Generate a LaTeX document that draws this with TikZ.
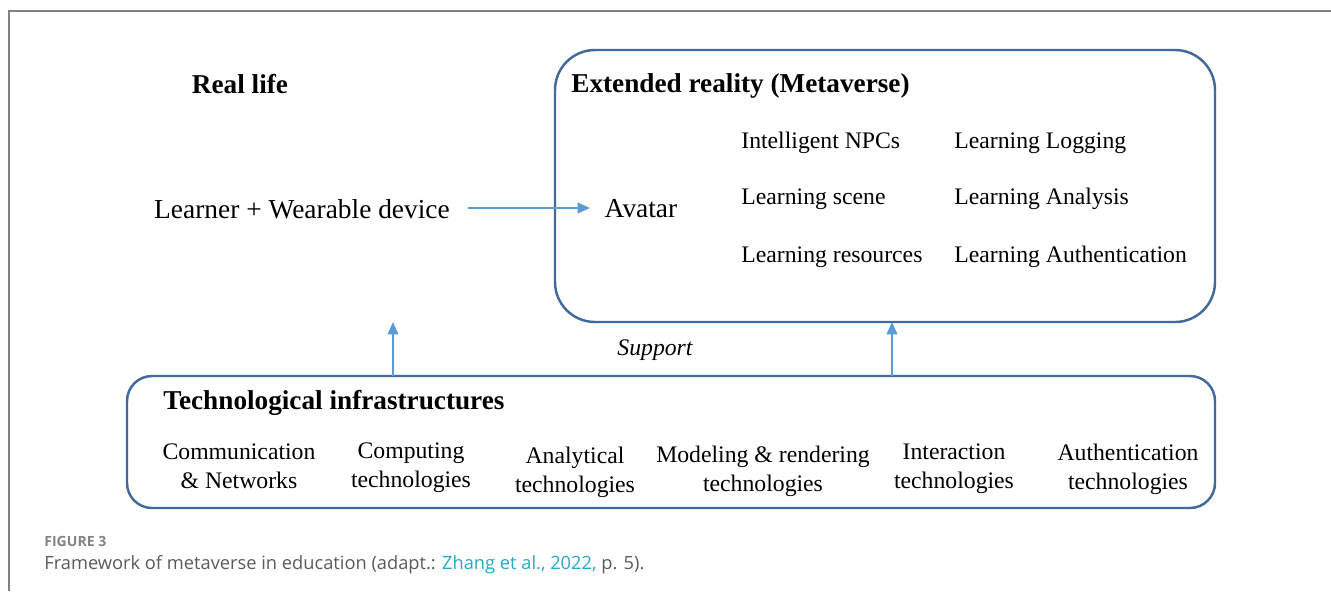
\documentclass[tikz,border=0pt]{standalone}
\usepackage{fontspec}
\setmainfont{Liberation Serif}
\newfontfamily\capfont{Open Sans}
\usetikzlibrary{arrows.meta, positioning}
\definecolor{boxline}{HTML}{41699A}
\definecolor{arrline}{HTML}{5B9BD5}
\definecolor{capgray}{HTML}{5A5A5A}
\definecolor{linkcol}{HTML}{2AA6C6}
\begin{document}
\begin{tikzpicture}[x=0.02cm, y=-0.02cm, >={Triangle[length=7pt,width=6pt]},
        every node/.style={font=\fontsize{13.5}{16.5}\selectfont, inner sep=0pt},
        title/.style={font=\fontsize{15.5}{18}\selectfont\bfseries},
        big/.style={font=\fontsize{15.6}{18}\selectfont},
        item/.style={anchor=west},
        tech/.style={align=center},
        frame/.style={draw=boxline, line width=1.4pt},
        link/.style={draw=arrline, line width=1.1pt, ->}]
      \useasboundingbox (0,0) rectangle (1331,593);
      % page frame (top and left only)
      \draw[gray, line width=0.8pt] (1331,11) -- (9,11) -- (9,591);
      % boxes
      \draw[frame, rounded corners=0.8cm] (555,50) rectangle (1215,322);
      \draw[frame, rounded corners=0.5cm] (127,376) rectangle (1215,508);
      % real life side
      \node[title] (real) at (240,84) {Real life};
      \node[big] (learner) at (302,209) {Learner + Wearable device};
      % metaverse side
      \node[title, anchor=west] (xr) at (571,86) {Extended reality (Metaverse)};
      \node[big] (avatar) at (641,209) {Avatar};
      \node[item] (npc) at (741,143) {Intelligent NPCs};
      \node[item] (scene) at (741,199) {Learning scene};
      \node[item] (res) at (741,257) {Learning resources};
      \node[item] (logg) at (954,143) {Learning Logging};
      \node[item] (anal) at (954,199) {Learning Analysis};
      \node[item] (auth) at (954,257) {Learning Authentication};
      % infrastructures
      \node[title, anchor=west] (infra) at (163,403) {Technological infrastructures};
      \node[tech] (comm) at (239,466) {Communication\\\& Networks};
      \node[tech] (comp) at (411,468) {Computing\\technologies};
      \node[tech] (analy) at (575,472) {Analytical\\technologies};
      \node[tech] (model) at (763,471) {Modeling \& rendering\\technologies};
      \node[tech] (inter) at (954,469) {Interaction\\technologies};
      \node[tech] (authn) at (1128,469) {Authentication\\technologies};
      \node[font=\fontsize{13.5}{16.5}\selectfont\itshape] (supp) at (655,350) {Support};
      % arrows
      \coordinate (s) at (468,208);
      \coordinate (t) at (590,208);
      \coordinate (a1) at (393,376);
      \coordinate (b1) at (393,322);
      \coordinate (a2) at (892,376);
      \coordinate (b2) at (892,322);
      \draw[link] (s) -- (t);
      \draw[link] (a1) -- (b1);
      \draw[link] (a2) -- (b2);
      % caption
      \node[anchor=west, font=\capfont\bfseries\fontsize{8}{10}\selectfont, text=capgray!75] (fig) at (44,541) {FIGURE 3};
      \node[anchor=west, font=\capfont\fontsize{10.4}{12}\selectfont, text=capgray] (cap) at (44,565)
        {Framework of metaverse in education (adapt.: \textcolor{linkcol}{Zhang et al., 2022,} p. 5).};
\end{tikzpicture}
\end{document}
